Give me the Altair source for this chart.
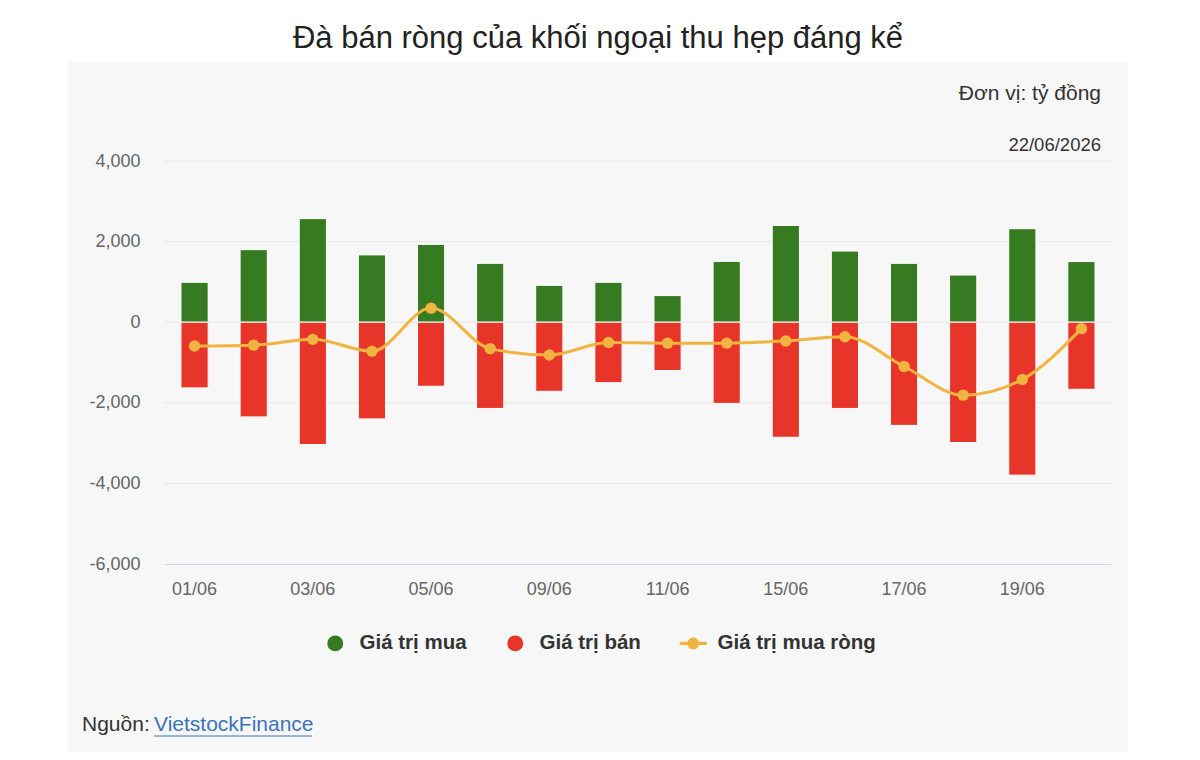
import altair as alt
import pandas as pd

# ---------------- data ----------------
CATEGORIES = ["01/06", "02/06", "03/06", "04/06", "05/06", "08/06", "09/06", "10/06",
              "11/06", "12/06", "15/06", "16/06", "17/06", "18/06", "19/06", "22/06"]
BUY = [990, 1800, 2570, 1670, 1930, 1460, 915, 990, 660, 1510, 2400, 1765, 1460, 1170, 2320, 1505]
SELL = [-1630, -2350, -3035, -2400, -1590, -2140, -1715, -1500, -1200, -2015, -2855, -2140,
        -2560, -2985, -3795, -1665]
NET = [-590, -570, -425, -720, 350, -655, -815, -505, -520, -520, -465, -360, -1100, -1810, -1420, -160]
SERIES = ["Giá trị mua", "Giá trị bán", "Giá trị mua ròng"]
Y_TICKS = [-6000, -4000, -2000, 0, 2000, 4000]
X_LABELS = CATEGORIES[::2]

TITLE = "Đà bán ròng của khối ngoại thu hẹp đáng kể"
UNIT = "Đơn vị: tỷ đồng"
DATE = "22/06/2026"
SOURCE = "Nguồn:"
LINK = "VietstockFinance"

# ---------------- styles ----------------
COLORS = ["#367b22", "#e8352a", "#f2b440"]
FONT = "Liberation Sans"
W, H = 946, 403
NET_SYMBOL = ("M-1.7,-0.2L1.7,-0.2L1.7,0.2L-1.7,0.2Z "
              "M0.75,0A0.75,0.75 0 1,1 -0.75,0A0.75,0.75 0 1,1 0.75,0Z")

bars_df = pd.DataFrame({
    "date": CATEGORIES * 2,
    "value": BUY + SELL,
    "series": [SERIES[0]] * len(CATEGORIES) + [SERIES[1]] * len(CATEGORIES),
})
net_df = pd.DataFrame({"date": CATEGORIES, "value": NET, "series": SERIES[2]})
legend_df = pd.DataFrame({"date": [CATEGORIES[0]] * 3, "value": [0] * 3, "series": SERIES})
grid_df = pd.DataFrame({"value": Y_TICKS[1:]})

x_enc = alt.X(
    "date:N", sort=CATEGORIES,
    scale=alt.Scale(domain=CATEGORIES, paddingInner=0.54, paddingOuter=0.27),
    axis=alt.Axis(values=X_LABELS, title=None, labelAngle=0, ticks=False, grid=False,
                  domainColor="#ccd6eb", domainWidth=1, labelColor="#666666",
                  labelFontSize=18, labelFont=FONT, labelPadding=16, zindex=1),
)
y_scale = alt.Scale(domain=[-6000, 4000], nice=False, zero=False)
y_axis = alt.Axis(values=Y_TICKS, title=None, grid=False, domain=False, ticks=False,
                  labelColor="#666666", labelFontSize=18, labelFont=FONT, labelPadding=25,
                  labelExpr="replace(format(datum.value, ','), '\u2212', '-')", zindex=1)
y_enc = alt.Y("value:Q", scale=y_scale, axis=y_axis, stack=None)

legend = alt.Legend(title=None, orient="none", legendX=160, legendY=472, direction="horizontal",
                    symbolSize=254, labelFontSize=20.5, labelFontWeight="bold", labelColor="#333333",
                    labelFont=FONT, labelOffset=14, columnPadding=38, padding=0,
                    symbolOpacity=1, symbolStrokeWidth=0, symbolType="circle")
color_enc = alt.Color("series:N", scale=alt.Scale(domain=SERIES, range=COLORS), legend=legend)
shape_enc = alt.Shape("series:N", scale=alt.Scale(domain=SERIES, range=["circle", "circle", NET_SYMBOL]),
                      legend=legend)


def one(text):
    return alt.Chart(pd.DataFrame({"t": [text]}))


panel = one("").mark_rect(color="#f7f7f7").encode(
    x=alt.value(-97), x2=alt.value(963), y=alt.value(-99), y2=alt.value(591))

grid = alt.Chart(grid_df).mark_rule(color="#e6e6e6", strokeWidth=1).encode(
    y=y_enc, x=alt.value(0), x2=alt.value(W))

bars = alt.Chart(bars_df).mark_bar(stroke="white", strokeWidth=1).encode(
    x=x_enc, y=y_enc, color=color_enc)

line = alt.Chart(net_df).mark_line(color=COLORS[2], strokeWidth=3, interpolate="monotone").encode(
    x=x_enc, y=y_enc)

points = alt.Chart(net_df).mark_point(filled=True, size=130, opacity=1, color=COLORS[2]).encode(
    x=x_enc, y=y_enc)

legend_layer = alt.Chart(legend_df).mark_point(filled=True, opacity=0).encode(
    x=x_enc, y=y_enc, color=color_enc, shape=shape_enc)

title = one(TITLE).mark_text(align="center", baseline="alphabetic", fontSize=31, font=FONT,
                             color="#222222").encode(text="t:N", x=alt.value(433), y=alt.value(-113))
unit = one(UNIT).mark_text(align="right", baseline="middle", fontSize=21, font=FONT,
                           color="#333333").encode(text="t:N", x=alt.value(936), y=alt.value(-67))
date = one(DATE).mark_text(align="right", baseline="middle", fontSize=18.5, font=FONT,
                           color="#333333").encode(text="t:N", x=alt.value(936), y=alt.value(-16))
source = one(SOURCE).mark_text(align="left", baseline="middle", fontSize=21, font=FONT,
                               color="#333333").encode(text="t:N", x=alt.value(-83), y=alt.value(564))
link = one(LINK).mark_text(align="left", baseline="middle", fontSize=21, font=FONT,
                           color="#3b73b9").encode(text="t:N", x=alt.value(-11), y=alt.value(564))
underline = one("").mark_rule(color="#3b73b9", strokeWidth=1).encode(
    x=alt.value(-11), x2=alt.value(147), y=alt.value(575))

chart = alt.layer(
    panel, grid, bars, line, points, legend_layer, title, unit, date, source, link, underline
).properties(
    width=W, height=H,
    padding={"left": 165, "top": 161, "right": 89, "bottom": 196},
    autosize=alt.AutoSizeParams(type="none"),
).configure(background="white").configure_view(stroke=None)

chart.save("out.html", embed_options={"renderer": "svg", "actions": False})
